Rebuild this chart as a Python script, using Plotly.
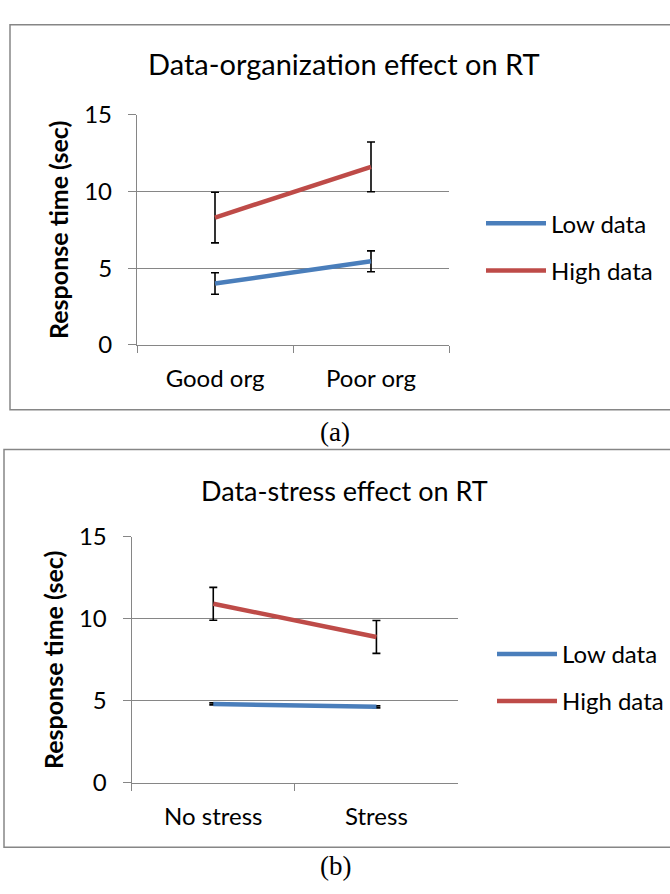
import plotly.graph_objects as go

# ---- data ----
series_names = ["Low data", "High data"]
org_categories = ["Good org", "Poor org"]
org_low = [4.0, 5.45]
org_low_err = [0.7, 0.68]
org_high = [8.3, 11.6]
org_high_err = [1.65, 1.62]

stress_categories = ["No stress", "Stress"]
stress_low = [4.82, 4.64]
stress_low_err = [0.06, 0.06]
stress_high = [10.92, 8.9]
stress_high_err = [1.0, 1.0]

y_ticks = [0, 5, 10, 15]
title_a = "Data-organization effect on RT"
title_b = "Data-stress effect on RT"
y_title = "Response time (sec)"

# ---- style ----
BLUE = "#4A7EBB"
RED = "#BE4B48"
GRAY = "#868686"
FONT = "Lato"
W, H = 670, 894


def px_x(x):
    return x / W


def px_y(y):
    return (H - y) / H


fig = go.Figure()


def add_series(x, y, err, name, color, xa, ya, legend):
    fig.add_trace(go.Scatter(
        x=x, y=y, name=name, mode="lines",
        line=dict(color=color, width=4.5),
        error_y=dict(type="data", array=err, visible=True,
                     color="black", thickness=1.6, width=4),
        xaxis=xa, yaxis=ya, legend=legend, legendgroup=name + legend,
    ))


add_series(org_categories, org_low, org_low_err, series_names[0], BLUE, "x", "y", "legend")
add_series(org_categories, org_high, org_high_err, series_names[1], RED, "x", "y", "legend")
add_series(stress_categories, stress_low, stress_low_err, series_names[0], BLUE, "x2", "y2", "legend2")
add_series(stress_categories, stress_high, stress_high_err, series_names[1], RED, "x2", "y2", "legend2")

xaxis_common = dict(
    type="category", range=[-0.5, 1.5], showgrid=False, zeroline=False,
    showline=True, linecolor=GRAY, linewidth=1.3,
    ticks="outside", tickson="boundaries", ticklen=7, tickcolor=GRAY, tickwidth=1.3,
    tickfont=dict(family=FONT, size=24, color="black"),
    ticklabelstandoff=12,
    fixedrange=True,
)
yaxis_common = dict(
    range=[0, 15], tickvals=y_ticks, showgrid=True, gridcolor=GRAY, gridwidth=1.3,
    zeroline=False, showline=True, linecolor=GRAY, linewidth=1.3,
    ticks="outside", ticklen=8, tickcolor=GRAY, tickwidth=1.3,
    tickfont=dict(family=FONT, size=24, color="black"),
    ticklabelstandoff=11,
    title=dict(text="<b>" + y_title + "</b>", font=dict(family=FONT, size=25, color="black"), standoff=8),
    fixedrange=True,
)

legend_common = dict(
    font=dict(family=FONT, size=24, color="black"),
    bgcolor="rgba(0,0,0,0)", tracegroupgap=13,
    xanchor="left", yanchor="middle", itemwidth=60,
)

fig.update_layout(
    width=W, height=H, margin=dict(l=0, r=0, t=0, b=0),
    paper_bgcolor="white", plot_bgcolor="white",
    xaxis=dict(domain=[px_x(137), px_x(449)], anchor="y", **xaxis_common),
    yaxis=dict(domain=[px_y(340), px_y(102)], anchor="x", **yaxis_common),
    xaxis2=dict(domain=[px_x(131.7), px_x(458)], anchor="y2", **xaxis_common),
    yaxis2=dict(domain=[px_y(792.7), px_y(538.3)], anchor="x2", **yaxis_common),
    legend=dict(x=px_x(481), y=px_y(239), **legend_common),
    legend2=dict(x=px_x(492), y=px_y(684), **legend_common),
    shapes=[
        dict(type="rect", xref="paper", yref="paper",
             x0=px_x(10), x1=1.05, y0=px_y(407), y1=px_y(9),
             line=dict(color=GRAY, width=1.5), layer="below"),
        dict(type="rect", xref="paper", yref="paper",
             x0=px_x(4), x1=1.05, y0=px_y(859), y1=px_y(448),
             line=dict(color=GRAY, width=1.5), layer="below"),
    ],
    annotations=[
        dict(text=title_a, xref="paper", yref="paper", x=px_x(344), y=px_y(49),
             showarrow=False, xanchor="center", yanchor="middle",
             font=dict(family=FONT, size=29, color="black")),
        dict(text=title_b, xref="paper", yref="paper", x=px_x(344), y=px_y(490),
             showarrow=False, xanchor="center", yanchor="middle",
             font=dict(family=FONT, size=27, color="black")),
        dict(text="(a)", xref="paper", yref="paper", x=px_x(335), y=px_y(430),
             showarrow=False, xanchor="center", yanchor="middle",
             font=dict(family="Liberation Serif", size=27, color="black")),
        dict(text="(b)", xref="paper", yref="paper", x=px_x(335), y=px_y(879),
             showarrow=False, xanchor="center", yanchor="middle",
             font=dict(family="Liberation Serif", size=27, color="black")),
    ],
)

fig.write_html("out.html")
